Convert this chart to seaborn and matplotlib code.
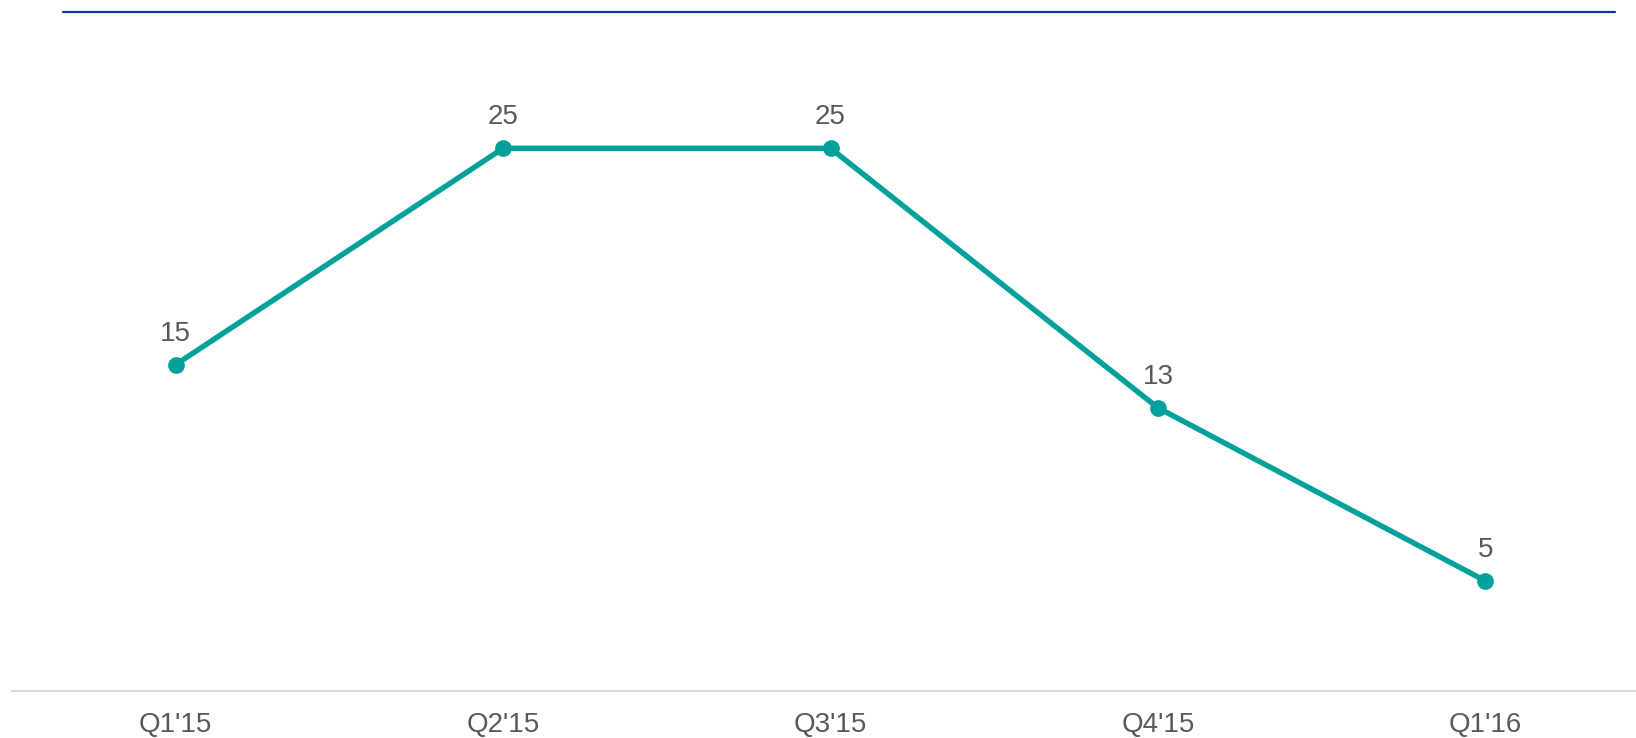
import matplotlib
matplotlib.use("Agg")
import matplotlib.pyplot as plt
from matplotlib.lines import Line2D
import pandas as pd
import seaborn as sns

# donnees
quarters = ["Q1'15", "Q2'15", "Q3'15", "Q4'15", "Q1'16"]
values = [15, 25, 25, 13, 5]

df = pd.DataFrame({"quarter": quarters, "value": values})

sns.set_theme(style="white")
plt.rcParams['font.family'] = ['Liberation Sans', 'DejaVu Sans']

W, H = 1636, 738
fig = plt.figure(figsize=(W / 100, H / 100), dpi=100)
ax = fig.add_axes([12 / W, (H - 691) / H, 1 - 12 / W, (691 - 12) / H])

teal = '#00a19b'
sns.pointplot(data=df, x="quarter", y="value", color=teal, ax=ax,
              markers='o', linestyles='-')
for ln in ax.lines:
    ln.set_linewidth(3.9)
    ln.set_markersize(10)

# etiquettes de valeurs
for i, v in enumerate(values):
    ax.annotate(str(v), (i, v), xytext=(0, 13), textcoords='offset points',
                ha='center', va='bottom', fontsize=20, color='#595959')

ax.set_xlim(-0.5, 4.46)
ax.set_ylim(-0.09, 31.3)
ax.set_xlabel('')
ax.set_ylabel('')
ax.set_yticks([])
ax.tick_params(axis='x', length=0, pad=15, labelsize=20, labelcolor='#595959')

for s in ['top', 'left', 'right']:
    ax.spines[s].set_visible(False)
ax.spines['bottom'].set_color('#d9d9d9')
ax.spines['bottom'].set_linewidth(1.5)

# ligne bleue en haut
fig.add_artist(Line2D([63 / W, 1615 / W], [(H - 12) / H, (H - 12) / H],
                      color='#0b3a8c', linewidth=1.6, transform=fig.transFigure))

fig.savefig('out.png', dpi=100)
